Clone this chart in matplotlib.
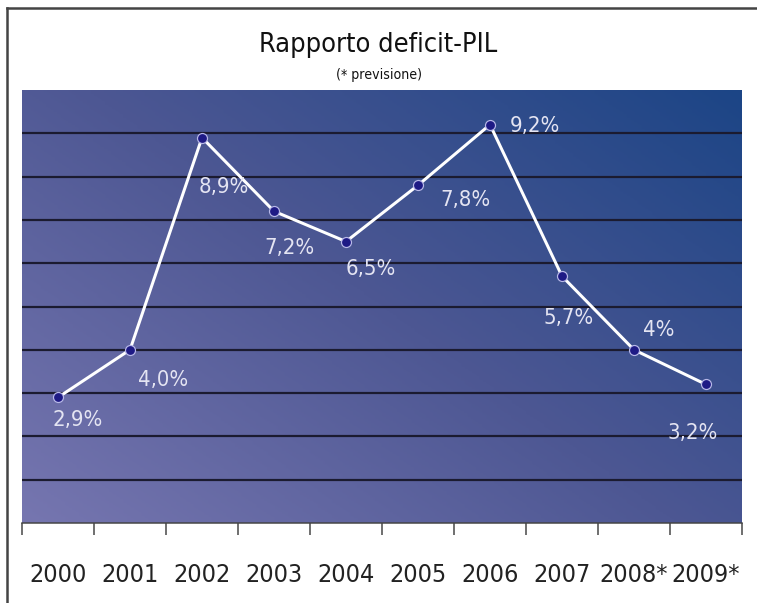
import matplotlib
matplotlib.use("Agg")
import matplotlib.pyplot as plt
import numpy as np
from matplotlib.colors import LinearSegmentedColormap
from matplotlib.lines import Line2D

years = ["2000", "2001", "2002", "2003", "2004", "2005", "2006", "2007", "2008*", "2009*"]
deficit = [2.9, 4.0, 8.9, 7.2, 6.5, 7.8, 9.2, 5.7, 4.0, 3.2]
labels = ["2,9%", "4,0%", "8,9%", "7,2%", "6,5%", "7,8%", "9,2%", "5,7%", "4%", "3,2%"]
# label offsets from each point, in points
offsets = [(20, -23), (33, -30), (22, -49), (15, -37), (25, -27),
           (47, -15), (45, -1), (7, -42), (25, 20), (-13, -49)]

fam = ["DejaVu Sans"]

fig = plt.figure(figsize=(757 / 72, 603 / 72), dpi=72)
ax = fig.add_axes([22 / 757, 1 - 523 / 603, (742 - 22) / 757, (523 - 90) / 603])

x = np.arange(len(years))
ax.set_xlim(-0.5, len(years) - 0.5)
ax.set_ylim(0, 10)

# diagonal gradient background
gx, gy = np.meshgrid(np.linspace(0, 1, 200), np.linspace(0, 1, 200))
t = 0.55 * gx + 0.45 * gy
cmap = LinearSegmentedColormap.from_list("bg", ["#7676b0", "#4d5793", "#1c4586"])
ax.imshow(t, cmap=cmap, extent=(0, 1, 0, 1), transform=ax.transAxes,
          origin="lower", aspect="auto", zorder=0)

for v in range(1, 10):
    ax.axhline(v, color="#1b1b30", lw=2.2, zorder=1)

ax.plot(x, deficit, color="white", lw=3, zorder=2,
        marker="o", ms=10, mfc="#1e1a85", mec="#b8b8e8", mew=1.2)

for i in range(len(x)):
    ax.annotate(labels[i], (x[i], deficit[i]), xytext=offsets[i], textcoords="offset points",
                ha="center", va="center", color="#e4e4f2", fontsize=22, family=fam,
                stretch="condensed", zorder=3)

ax.set_yticks([])
ax.set_xticks(x)
ax.set_xticklabels(years, fontsize=25, color="#222222", family=fam, stretch="condensed")
ax.tick_params(axis="x", which="major", length=0, pad=40)
ax.set_xticks(np.arange(-0.5, len(years), 1), minor=True)
ax.tick_params(axis="x", which="minor", length=12, width=1.5, color="#444444")
for s in ["top", "right", "left"]:
    ax.spines[s].set_visible(False)
ax.spines["bottom"].set_color("#444444")
ax.spines["bottom"].set_linewidth(1.5)

fig.text(0.5, 1 - 45 / 603, "Rapporto deficit-PIL", ha="center", va="center",
         fontsize=27, color="#111111", family=fam, stretch="condensed")
fig.text(0.5, 1 - 75 / 603, "(* previsione)", ha="center", va="center",
         fontsize=14, color="#111111", family=fam, stretch="condensed")

# outer frame (left and top)
fig.add_artist(Line2D([7 / 757, 7 / 757], [0, 1 - 8 / 603], color="#444444", lw=2.5))
fig.add_artist(Line2D([7 / 757, 1], [1 - 8 / 603, 1 - 8 / 603], color="#444444", lw=2.5))

fig.savefig("out.png", dpi=72)
